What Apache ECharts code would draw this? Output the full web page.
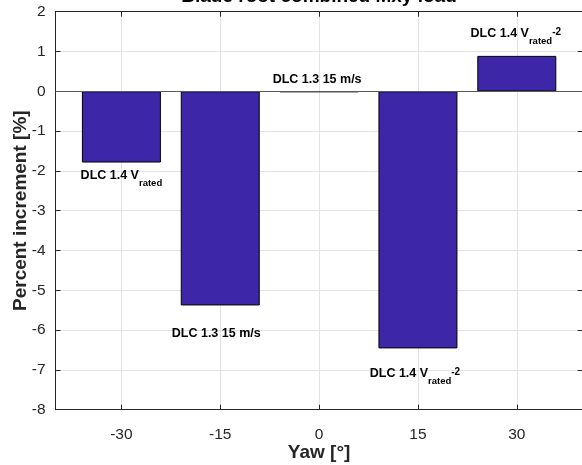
<!DOCTYPE html>
<html>
<head>
<meta charset="utf-8">
<script src="https://cdn.jsdelivr.net/npm/echarts@6/dist/echarts.min.js"></script>
<style>html,body{margin:0;padding:0;background:#fff;}#c{width:582px;height:465px;}</style>
</head>
<body>
<div id="c"></div>
<script>
// ---- data ----
const yawAngles = [-30, -15, 0, 15, 30];
const percentIncrement = [-1.79, -5.38, -0.02, -6.46, 0.89];
const barLabels = [
  '{m|DLC 1.4 V}{s|rated}',
  '{m|DLC 1.3 15 m/s}',
  '{m|DLC 1.3 15 m/s}',
  '{m|DLC 1.4 V}{s|rated}{p|-2}',
  '{m|DLC 1.4 V}{s|rated}{p|-2}'
];
const labelSide = ['bottom', 'bottom', 'top', 'bottom', 'top'];
const labelDistance = [7, 22, 3, 19, 10];
const labelShift = [[0, 0], [-4, 0], [-2, 0], [-3, 0], [-1, 0]];
const xTicks = [-30, -15, 0, 15, 30];

const FONT = '"Liberation Sans", Arial, Helvetica, sans-serif';
const AXIS = '#262626';
const GRID = '#e3e3e3';

const rich = {
  m: { fontSize: 12.5, fontWeight: 'bold', lineHeight: 15, verticalAlign: 'top', color: '#000', fontFamily: FONT },
  s: { fontSize: 9.5, fontWeight: 'bold', lineHeight: 19, verticalAlign: 'bottom', color: '#000', fontFamily: FONT },
  p: { fontSize: 10, fontWeight: 'bold', lineHeight: 12, verticalAlign: 'top', color: '#000', fontFamily: FONT }
};

const chart = echarts.init(document.getElementById('c'), null, { renderer: 'canvas' });

const barData = yawAngles.map((x, i) => ({
  value: [x, percentIncrement[i]],
  label: {
    show: true,
    position: labelSide[i],
    distance: labelDistance[i],
    offset: labelShift[i],
    formatter: barLabels[i],
    rich: rich
  }
}));

const option = {
  animation: false,
  backgroundColor: '#fff',
  textStyle: { fontFamily: FONT },
  title: {
    text: 'Blade root combined Mxy load',
    left: 319, top: -13, padding: 0,
    textAlign: 'center',
    textStyle: { fontSize: 19, fontWeight: 'bold', color: '#000', fontFamily: FONT }
  },
  grid: { left: 55.5, right: -0.7, top: 11.7, bottom: 55.3, containLabel: false, outerBoundsMode: 'none' },
  xAxis: [{
    type: 'value', min: -40, max: 40, position: 'bottom',
    name: 'Yaw [°]', nameLocation: 'middle', nameGap: 34, nameMoveOverlap: false,
    nameTextStyle: { fontSize: 19, fontWeight: 'bold', color: AXIS, fontFamily: FONT },
    axisLine: { show: true, onZero: false, lineStyle: { color: AXIS, width: 1 } },
    axisTick: { show: true, inside: true, length: 5, customValues: xTicks, lineStyle: { color: AXIS } },
    axisLabel: { show: true, customValues: xTicks, margin: 17, fontSize: 15.5, color: AXIS, fontFamily: FONT },
    splitLine: { show: true, lineStyle: { color: GRID, width: 1 } }
  }, {
    type: 'value', min: -40, max: 40, position: 'top',
    axisLine: { show: true, onZero: false, lineStyle: { color: AXIS, width: 1 } },
    axisTick: { show: true, inside: true, length: 5, customValues: xTicks, lineStyle: { color: AXIS } },
    axisLabel: { show: false },
    splitLine: { show: false }
  }],
  yAxis: [{
    type: 'value', min: -8, max: 2, interval: 1, position: 'left',
    name: 'Percent increment [%]', nameLocation: 'middle', nameGap: 25, nameMoveOverlap: false,
    nameTextStyle: { fontSize: 19, fontWeight: 'bold', color: AXIS, fontFamily: FONT },
    axisLine: { show: true, onZero: false, lineStyle: { color: AXIS, width: 1 } },
    axisTick: { show: true, inside: true, length: 5, lineStyle: { color: AXIS } },
    axisLabel: { show: true, margin: 10, fontSize: 15.5, color: AXIS, fontFamily: FONT },
    splitLine: { show: true, lineStyle: { color: GRID, width: 1 } }
  }, {
    type: 'value', min: -8, max: 2, interval: 1, position: 'right',
    axisLine: { show: true, onZero: false, lineStyle: { color: AXIS, width: 1 } },
    axisTick: { show: true, inside: true, length: 5, lineStyle: { color: AXIS } },
    axisLabel: { show: false },
    splitLine: { show: false }
  }],
  series: [{
    type: 'bar',
    xAxisIndex: 0, yAxisIndex: 0,
    barWidth: 79,
    itemStyle: { color: '#3e26a8', borderColor: '#000', borderWidth: 1 },
    data: barData,
    markLine: {
      silent: true, symbol: 'none', animation: false,
      label: { show: false },
      lineStyle: { color: '#5a5a5a', width: 1, type: 'solid' },
      data: [{ yAxis: 0 }]
    },
    z: 3
  }]
};
chart.setOption(option);
</script>
</body>
</html>
